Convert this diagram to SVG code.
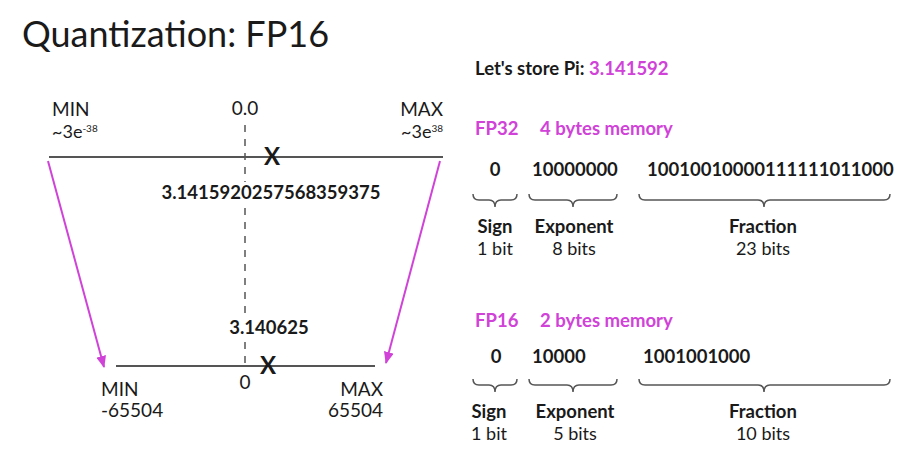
<svg xmlns="http://www.w3.org/2000/svg" width="923" height="450" viewBox="0 0 923 450">
<style>
text{font-family:Lato,"Open Sans","Liberation Sans",sans-serif;fill:#1a1a1a}
.b{font-weight:700;font-size:18.5px}
.r{font-size:18px}
.l{font-size:19px}
.m{fill:#d042d8;font-weight:700;font-size:18.5px}
.c{text-anchor:middle}
.e{text-anchor:end}
.sup{font-size:10px}
.ax{stroke:#555;stroke-width:2;fill:none}
.dash{stroke:#555;stroke-width:1.5;stroke-dasharray:7 7;fill:none}
.arr{stroke:#d042d8;stroke-width:2;fill:none}
.brace{stroke:#555;stroke-width:1.5;fill:none}
.x{font-weight:700;font-size:24px;text-anchor:middle}
</style>
<defs>
<marker id="ah" viewBox="0 0 12 10" refX="11" refY="5" markerWidth="12" markerHeight="10" markerUnits="userSpaceOnUse" orient="auto">
<path d="M0,0 L12,5 L0,10 Z" fill="#d042d8"/>
</marker>
</defs>
<g id="title">
<text x="22" y="47" style="font-size:36px;font-weight:400">Quantization: FP16</text>
<text x="475" y="75" style="font-size:18.5px;font-weight:700">Let's store Pi: <tspan style="fill:#d042d8">3.141592</tspan></text>
</g>
<g id="fp32-range">
<line class="ax" x1="49" y1="157" x2="443" y2="157"/>
<text x="52" y="116" class="l">MIN</text>
<text x="52" y="138" class="r">~3e<tspan dy="-6" class="sup">-38</tspan></text>
<text x="443" y="116" class="l e">MAX</text>
<text x="443" y="138" class="r e">~3e<tspan dy="-6" class="sup">38</tspan></text>
<text x="245" y="115" class="l c">0.0</text>
<text x="272" y="165" class="x">X</text>
<text x="271" y="199" class="b c">3.1415920257568359375</text>
</g>
<g id="fp16-range">
<line class="ax" x1="116" y1="366" x2="375" y2="366"/>
<text x="269" y="334" class="b c">3.140625</text>
<text x="268" y="374" class="x">X</text>
<text x="245" y="389" class="l c">0</text>
<text x="101" y="396" class="l">MIN</text>
<text x="101" y="417" class="l">-65504</text>
<text x="383" y="396" class="l e">MAX</text>
<text x="383" y="417" class="l e">65504</text>
</g>
<g id="connectors">
<path class="dash" d="M245,125 V182"/>
<path class="dash" d="M245,208 V318"/>
<path class="dash" d="M245,342 V367"/>
<line class="arr" x1="48" y1="161" x2="104" y2="367" marker-end="url(#ah)"/>
<line class="arr" x1="440" y1="161" x2="386" y2="363" marker-end="url(#ah)"/>
</g>
<g id="fp32-bits">
<text x="475" y="135" class="m">FP32</text>
<text x="540" y="135" class="m">4 bytes memory</text>
<text x="495" y="176" class="b c">0</text>
<text x="532" y="176" class="b">10000000</text>
<text x="647" y="176" class="b">10010010000111111011000</text>
<path class="brace" d="M473,194 Q473,200 479,200 L489,200 Q495,200 495,207 Q495,200 501,200 L511,200 Q517,200 517,194"/>
<path class="brace" d="M529,194 Q529,200 535,200 L567,200 Q573,200 573,207 Q573,200 579,200 L611,200 Q617,200 617,194"/>
<path class="brace" d="M639,194 Q639,200 645,200 L758,200 Q764,200 764,207 Q764,200 770,200 L884,200 Q890,200 890,194"/>
<text x="495" y="233" class="b c">Sign</text>
<text x="495" y="255" class="r c">1 bit</text>
<text x="574" y="233" class="b c">Exponent</text>
<text x="574" y="255" class="r c">8 bits</text>
<text x="763" y="233" class="b c">Fraction</text>
<text x="763" y="255" class="r c">23 bits</text>
</g>
<g id="fp16-bits">
<text x="475" y="327" class="m">FP16</text>
<text x="540" y="327" class="m">2 bytes memory</text>
<text x="496" y="363" class="b c">0</text>
<text x="532" y="363" class="b">10000</text>
<text x="643" y="363" class="b">1001001000</text>
<path class="brace" d="M473,379 Q473,385 479,385 L489,385 Q495,385 495,392 Q495,385 501,385 L511,385 Q517,385 517,379"/>
<path class="brace" d="M529,379 Q529,385 535,385 L567,385 Q573,385 573,392 Q573,385 579,385 L611,385 Q617,385 617,379"/>
<path class="brace" d="M639,379 Q639,385 645,385 L758,385 Q764,385 764,392 Q764,385 770,385 L884,385 Q890,385 890,379"/>
<text x="489" y="418" class="b c">Sign</text>
<text x="489" y="440" class="r c">1 bit</text>
<text x="575" y="418" class="b c">Exponent</text>
<text x="575" y="440" class="r c">5 bits</text>
<text x="763" y="418" class="b c">Fraction</text>
<text x="763" y="440" class="r c">10 bits</text>
</g>
</svg>
